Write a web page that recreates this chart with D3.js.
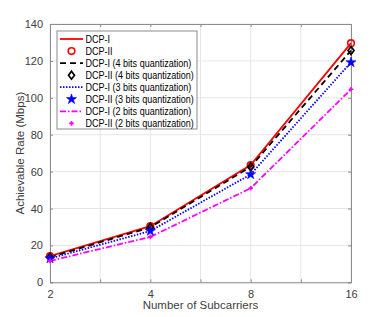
<!DOCTYPE html>
<html>
<head>
<meta charset="utf-8">
<script src="https://cdn.jsdelivr.net/npm/d3@7"></script>
<style>
  body { margin: 0; background: #fff; }
  svg { font-family: "Liberation Sans", Arial, sans-serif; }
</style>
</head>
<body>
<svg id="chart" width="388" height="317"></svg>
<script>
// subcarriers (log2 positions on x)
const subcarriers = [2, 4, 8, 16];
const xTicks = [1, 1.5, 2, 2.5, 3, 3.5, 4];
const yTicks = [0, 20, 40, 60, 80, 100, 120, 140];

const dcp1 = [14.2, 30.4, 63.5, 129.6];
const dcp2 = [14.2, 30.4, 63.5, 129.6];
const dcp1q4 = [13.6, 29.8, 62.6, 125.6];
const dcp2q4 = [13.6, 29.8, 62.6, 125.6];
const dcp1q3 = [12.9, 27.8, 58.5, 119.2];
const dcp2q3 = [12.9, 27.8, 58.5, 119.2];
const dcp1q2 = [11.6, 24.6, 51.0, 104.6];
const dcp2q2 = [11.6, 24.6, 51.0, 104.6];

const names = [
  'DCP-I', 'DCP-II',
  'DCP-I (4 bits quantization)', 'DCP-II (4 bits quantization)',
  'DCP-I (3 bits quantization)', 'DCP-II (3 bits quantization)',
  'DCP-I (2 bits quantization)', 'DCP-II (2 bits quantization)'
];

const series = [
  { name: names[0], vals: dcp1, color: '#ff0000', dash: null, marker: null },
  { name: names[1], vals: dcp2, color: '#ff0000', dash: null, marker: 'circle', noLine: true },
  { name: names[2], vals: dcp1q4, color: '#000000', dash: '6,4', marker: null },
  { name: names[3], vals: dcp2q4, color: '#000000', dash: null, marker: 'diamond', noLine: true },
  { name: names[4], vals: dcp1q3, color: '#0000ff', dash: '1.5,1.5', marker: null },
  { name: names[5], vals: dcp2q3, color: '#0000ff', dash: null, marker: 'star', noLine: true },
  { name: names[6], vals: dcp1q2, color: '#ff00ff', dash: '6,2,1.5,2', marker: null },
  { name: names[7], vals: dcp2q2, color: '#ff00ff', dash: null, marker: 'plus', noLine: true }
];

const svg = d3.select('#chart');
const m = { left: 50, right: 37, top: 24, bottom: 34.7 };
const W = 388, H = 317;

const x = d3.scaleLinear().domain([1, 4]).range([m.left, W - m.right]);
const y = d3.scaleLinear().domain([0, 140]).range([H - m.bottom, m.top]);

// grid
svg.append('g')
  .selectAll('line.gx')
  .data(xTicks).enter().append('line')
  .attr('x1', d => x(d)).attr('x2', d => x(d))
  .attr('y1', y(0)).attr('y2', y(140))
  .attr('stroke', '#e6e6e6').attr('stroke-width', 1);
svg.append('g')
  .selectAll('line.gy')
  .data(yTicks).enter().append('line')
  .attr('x1', x(1)).attr('x2', x(4))
  .attr('y1', d => y(d)).attr('y2', d => y(d))
  .attr('stroke', '#e6e6e6').attr('stroke-width', 1);

// axes
const xAxis = svg.append('g')
  .attr('transform', `translate(0,${y(0)})`)
  .call(d3.axisBottom(x).tickValues(xTicks).tickSize(-3).tickPadding(8)
    .tickFormat(d => Number.isInteger(d) ? Math.pow(2, d) : ''));
const yAxis = svg.append('g')
  .attr('transform', `translate(${x(1)},0)`)
  .call(d3.axisLeft(y).tickValues(yTicks).tickSize(-3).tickPadding(7));
const xTop = svg.append('g')
  .attr('transform', `translate(0,${y(140)})`)
  .call(d3.axisTop(x).tickValues(xTicks).tickSize(-3).tickFormat(''));
const yRight = svg.append('g')
  .attr('transform', `translate(${x(4)},0)`)
  .call(d3.axisRight(y).tickValues(yTicks).tickSize(-3).tickFormat(''));

[xAxis, yAxis, xTop, yRight].forEach(a => {
  a.select('.domain').attr('stroke', '#8c8c8c').attr('stroke-width', 1);
  a.selectAll('.tick line').attr('stroke', '#8c8c8c');
  a.selectAll('text').attr('fill', '#404040').style('font-size', '11px')
    .style('font-family', '"Liberation Sans", Arial, sans-serif');
});

// lines
const line = d3.line()
  .x((d, i) => x(Math.log2(subcarriers[i])))
  .y(d => y(d));

function drawMarker(g, type, cx, cy, color) {
  if (type === 'circle') {
    g.append('circle').attr('cx', cx).attr('cy', cy).attr('r', 3.3)
      .attr('fill', 'none').attr('stroke', color).attr('stroke-width', 1.6);
  } else if (type === 'diamond') {
    g.append('path')
      .attr('d', `M${cx},${cy - 4}L${cx + 3},${cy}L${cx},${cy + 4}L${cx - 3},${cy}Z`)
      .attr('fill', 'none').attr('stroke', color).attr('stroke-width', 1.7);
  } else if (type === 'star') {
    g.append('path')
      .attr('d', d3.symbol().type(d3.symbolStar).size(32)())
      .attr('transform', `translate(${cx},${cy})`)
      .attr('fill', color).attr('stroke', color).attr('stroke-width', 0.6);
  } else if (type === 'plus') {
    g.append('path')
      .attr('d', `M${cx - 2.3},${cy}H${cx + 2.3}M${cx},${cy - 2.3}V${cy + 2.3}`)
      .attr('stroke', color).attr('stroke-width', 1.6);
    g.append('circle').attr('cx', cx).attr('cy', cy).attr('r', 1.2).attr('fill', color);
  }
}

const plot = svg.append('g');
series.forEach(s => {
  if (!s.noLine) {
    plot.append('path').datum(s.vals)
      .attr('d', line)
      .attr('fill', 'none')
      .attr('stroke', s.color)
      .attr('stroke-width', 1.8)
      .attr('stroke-dasharray', s.dash);
  }
});
series.forEach(s => {
  if (s.marker) {
    s.vals.forEach((v, i) => drawMarker(plot, s.marker, x(Math.log2(subcarriers[i])), y(v), s.color));
  }
});

// axis labels
svg.append('text')
  .attr('x', x(2.5)).attr('y', 309)
  .attr('text-anchor', 'middle')
  .attr('fill', '#404040')
  .style('font-size', '11.5px')
  .text('Number of Subcarriers');
svg.append('text')
  .attr('transform', `translate(24,${y(70)}) rotate(-90)`)
  .attr('text-anchor', 'middle')
  .attr('fill', '#404040')
  .style('font-size', '11.5px')
  .text('Achievable Rate (Mbps)');

// legend
const lg = svg.append('g').attr('transform', 'translate(57,31)');
lg.append('rect').attr('width', 140).attr('height', 98)
  .attr('fill', '#fff').attr('stroke', '#8c8c8c').attr('stroke-width', 1);
series.forEach((s, i) => {
  const row = lg.append('g').attr('transform', `translate(0,${8 + i * 12.05})`);
  if (!s.noLine) {
    row.append('line').attr('x1', 3).attr('x2', 26).attr('y1', 0).attr('y2', 0)
      .attr('stroke', s.color).attr('stroke-width', 1.8)
      .attr('stroke-dasharray', s.dash);
  }
  if (s.marker) drawMarker(row, s.marker, 14.5, 0, s.color);
  row.append('text')
    .attr('transform', 'translate(28.5,4) scale(0.86,1)')
    .attr('fill', '#000')
    .style('font-size', '10.5px')
    .text(s.name);
});
</script>
</body>
</html>
